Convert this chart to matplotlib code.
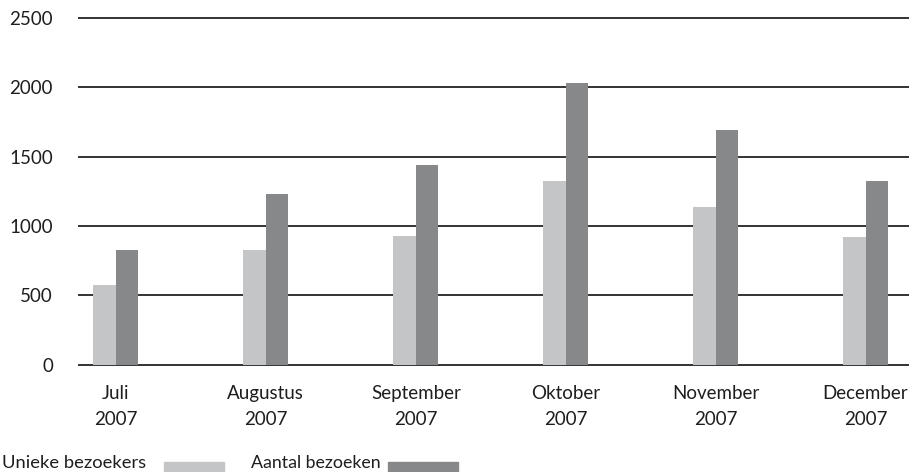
import matplotlib
matplotlib.use("Agg")
import matplotlib.pyplot as plt
from matplotlib.patches import Rectangle
import numpy as np

plt.rcParams['font.family'] = ['Lato', 'DejaVu Sans']

months = ['Juli\n2007', 'Augustus\n2007', 'September\n2007',
          'Oktober\n2007', 'November\n2007', 'December\n2007']
unieke = [575, 825, 930, 1325, 1135, 920]
aantal = [825, 1230, 1440, 2030, 1690, 1325]
yticks = [0, 500, 1000, 1500, 2000, 2500]

light = '#c4c5c7'
dark = '#87888a'
txt = '#1e1e1e'
fs = 13.5

fig = plt.figure(figsize=(9.09, 4.72), dpi=100)
ax = fig.add_axes([78 / 909, 107.5 / 472, 831 / 909, 346.5 / 472])

x = np.arange(len(months))
w = 0.15
ax.bar(x - w / 2, unieke, w, color=light, zorder=2)
ax.bar(x + w / 2, aantal, w, color=dark, zorder=2)

ax.hlines(yticks, -0.253, 5.29, color='#333333', lw=1.4, zorder=1, clip_on=False)

ax.set_xlim(-0.253, 5.29)
ax.set_ylim(0, 2500)
ax.set_yticks(yticks)
ax.set_yticklabels([str(v) for v in yticks], fontsize=fs, color=txt)
ax.set_xticks(x)
ax.set_xticklabels(months, fontsize=fs, color=txt, linespacing=1.6)
ax.tick_params(axis='y', length=0, pad=18)
ax.tick_params(axis='x', length=0, pad=15)
for s in ax.spines.values():
    s.set_visible(False)

# legend underneath
fig.text(2 / 909, 1 - 468 / 472, 'Unieke bezoekers', fontsize=13.2, color=txt, va='baseline')
fig.text(251 / 909, 1 - 468 / 472, 'Aantal bezoeken', fontsize=12.8, color=txt, va='baseline')
fig.patches.append(Rectangle((164 / 909, 1 / 472), 60 / 909, 9 / 472, transform=fig.transFigure,
                             color=light, figure=fig))
fig.patches.append(Rectangle((388 / 909, 1 / 472), 70 / 909, 9 / 472, transform=fig.transFigure,
                             color=dark, figure=fig))

fig.savefig('out.png', dpi=100)
